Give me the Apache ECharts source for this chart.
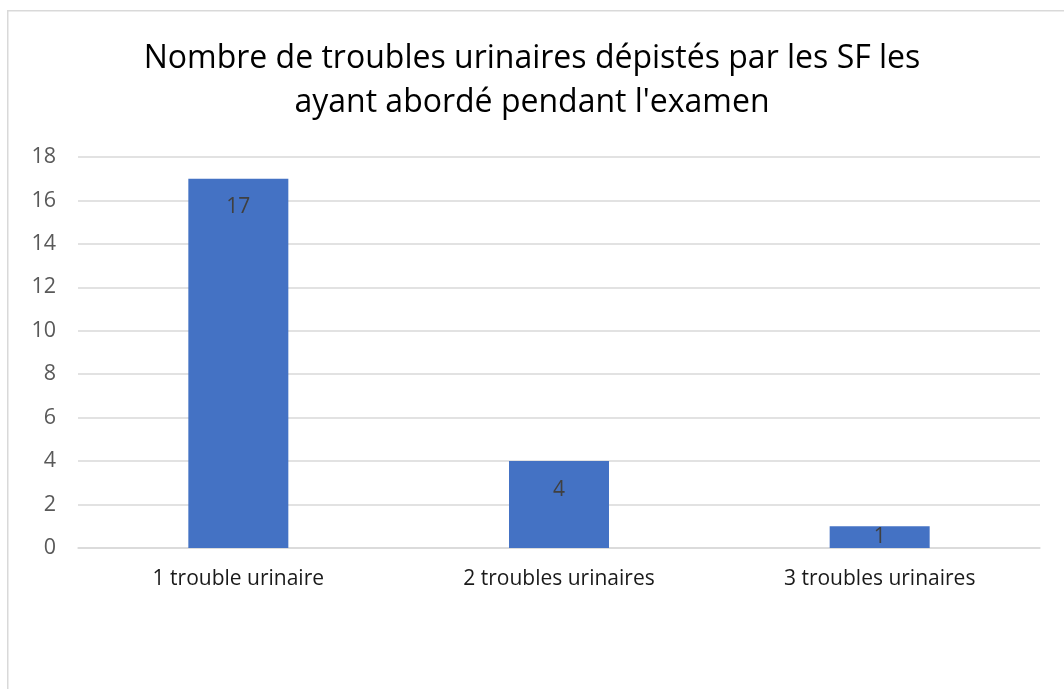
<!DOCTYPE html>
<html><head><meta charset="utf-8">
<script src="https://cdn.jsdelivr.net/npm/echarts@6/dist/echarts.min.js"></script>
<style>html,body{margin:0;padding:0;background:#fff}#c{width:1064px;height:689px}</style>
</head><body><div id="c"></div>
<script>
const titleText = "Nombre de troubles urinaires dépistés par les SF les\nayant abordé pendant l'examen";
const categories = ["1 trouble urinaire", "2 troubles urinaires", "3 troubles urinaires"];
const values = [17, 4, 1];
const yTicks = { min: 0, max: 18, interval: 2 };

const FONT = 'Open Sans';
const chart = echarts.init(document.getElementById('c'));
const data = values.map(v => ({
  value: v,
  label: v < 3 ? { position: 'inside' } : undefined
}));
chart.setOption({
  animation: false,
  graphic: [{
    type: 'rect', left: 7, top: 10, z: -1,
    shape: { width: 1100, height: 720 },
    style: { fill: '#fff', stroke: '#d9d9d9', lineWidth: 1.5 }
  }],
  title: {
    text: titleText, left: 'center', top: 32,
    textStyle: { fontFamily: FONT, fontSize: 32, fontWeight: 'normal', color: '#000', lineHeight: 44 }
  },
  grid: { left: 78, right: 24, top: 157, bottom: 141, containLabel: false },
  xAxis: {
    type: 'category', data: categories,
    axisLine: { show: true, lineStyle: { color: '#d9d9d9', width: 1.5 } },
    axisTick: { show: false },
    axisLabel: { color: '#1a1a1a', fontFamily: FONT, fontSize: 21, margin: 21 }
  },
  yAxis: {
    type: 'value', min: yTicks.min, max: yTicks.max, interval: yTicks.interval,
    axisLine: { show: false }, axisTick: { show: false },
    splitLine: { lineStyle: { color: '#d9d9d9', width: 1.5 } },
    axisLabel: { color: '#595959', fontFamily: FONT, fontSize: 21.5, margin: 22 }
  },
  series: [{
    type: 'bar', data: data, barWidth: 100,
    itemStyle: { color: '#4472c4' },
    label: { show: true, position: 'insideTop', distance: 18, color: '#404040', fontFamily: FONT, fontSize: 21 }
  }]
});
</script></body></html>
